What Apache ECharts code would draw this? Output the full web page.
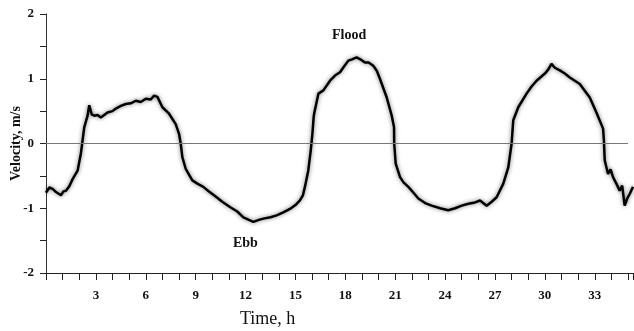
<!DOCTYPE html>
<html>
<head>
<meta charset="utf-8">
<script src="https://cdn.jsdelivr.net/npm/echarts@6/dist/echarts.min.js"></script>
<style>html,body{margin:0;padding:0;background:#fff;}#c{width:634px;height:331px;}</style>
</head>
<body>
<div id="c"></div>
<script>
// Time (h) and velocity (m/s)
var timeH = [0, 0.2, 0.4, 0.6, 0.9, 1.05, 1.2, 1.4, 1.6, 1.9, 2.1, 2.2, 2.3, 2.5, 2.6, 2.75, 2.9, 3.1, 3.3, 3.5, 3.7, 4.0, 4.2, 4.5, 4.8, 5.1, 5.4, 5.7, 6.0, 6.3, 6.5, 6.7, 7.0, 7.4, 7.8, 8.0, 8.1, 8.2, 8.4, 8.6, 8.8,
  9.1, 9.46, 9.8, 10.26, 10.6, 11.06, 11.5, 11.87, 12.2, 12.47, 12.8, 13.07, 13.5, 13.87, 14.3, 14.67, 15.0, 15.27, 15.45, 15.57, 15.77, 15.92, 16.02, 16.1, 16.14, 16.38, 16.68, 17.08, 17.38, 17.68,
  17.9, 18.18, 18.4, 18.68, 18.9, 19.18, 19.4, 19.68, 19.9, 20.08, 20.49, 20.79, 20.93, 20.94, 21.03, 21.29, 21.5, 21.79, 22.1, 22.39, 22.8, 23.19, 23.7, 24.19, 24.6, 25.0, 25.4, 25.8, 26.1, 26.5,
  26.8, 27.1, 27.5, 27.8, 28.0, 28.1, 28.4, 28.9, 29.2, 29.5, 30.0, 30.2, 30.4, 30.6, 30.9, 31.2, 31.5, 32.1, 32.7, 33.1, 33.5, 33.55, 33.6, 33.8, 33.95, 34.1, 34.3, 34.5, 34.65, 34.8, 34.95, 35.1, 35.3];
var velocity = [-0.76, -0.68, -0.70, -0.75, -0.80, -0.74, -0.73, -0.66, -0.55, -0.42, -0.15, 0.05, 0.25, 0.43, 0.59, 0.45, 0.43, 0.44, 0.40, 0.44, 0.48, 0.50, 0.54, 0.58, 0.61, 0.62, 0.66, 0.64, 0.69, 0.68, 0.74, 0.72, 0.56, 0.46, 0.30, 0.15, 0.0, -0.21, -0.39, -0.48, -0.57,
  -0.62, -0.67, -0.74, -0.83, -0.90, -0.98, -1.05, -1.14, -1.18, -1.21, -1.18, -1.16, -1.14, -1.11, -1.06, -1.01, -0.95, -0.88, -0.80, -0.67, -0.42, -0.11, 0.15, 0.42, 0.48, 0.77, 0.82, 0.97, 1.05, 1.10,
  1.18, 1.28, 1.30, 1.33, 1.30, 1.25, 1.25, 1.20, 1.12, 1.00, 0.71, 0.43, 0.25, 0.0, -0.31, -0.52, -0.60, -0.67, -0.76, -0.85, -0.92, -0.96, -1.00, -1.03, -1.00, -0.96, -0.93, -0.91, -0.88, -0.96,
  -0.90, -0.83, -0.62, -0.37, 0.0, 0.36, 0.56, 0.77, 0.88, 0.97, 1.08, 1.14, 1.23, 1.17, 1.13, 1.08, 1.02, 0.92, 0.71, 0.48, 0.23, 0.05, -0.26, -0.47, -0.40, -0.52, -0.62, -0.73, -0.65, -0.96, -0.85, -0.78, -0.67];
var xTickLabels = [3, 6, 9, 12, 15, 18, 21, 24, 27, 30, 33];
var yTickLabels = [-2, -1, 0, 1, 2];

var pts = timeH.map(function (t, i) { return [t, velocity[i]]; });
var serif = '"Liberation Serif", "DejaVu Serif", serif';

var chart = echarts.init(document.getElementById('c'), null, {renderer: 'canvas'});
chart.setOption({
  animation: false,
  backgroundColor: '#fff',
  grid: {left: 46, right: 1, top: 14, bottom: 58, containLabel: false, outerBoundsMode: 'none'},
  xAxis: {
    type: 'value', min: 0, max: 35.3, interval: 1,
    axisLine: {onZero: false, lineStyle: {color: '#222', width: 1}},
    axisTick: {show: true, length: 7, lineStyle: {color: '#222'}},
    splitLine: {show: false},
    axisLabel: {
      margin: 16, color: '#111', fontFamily: serif, fontWeight: 'bold', fontSize: 13,
      formatter: function (v) { return xTickLabels.indexOf(v) >= 0 ? String(v) : ''; }
    }
  },
  yAxis: {
    type: 'value', min: -2, max: 2, interval: 0.5,
    name: 'Velocity, m/s', nameLocation: 'middle', nameGap: 23, nameMoveOverlap: false,
    nameTextStyle: {color: '#111', fontFamily: serif, fontWeight: 'bold', fontSize: 14},
    axisLine: {show: true, onZero: false, lineStyle: {color: '#333', width: 1}},
    axisTick: {show: true, length: 6, lineStyle: {color: '#222'}},
    splitLine: {show: false},
    axisLabel: {
      margin: 12, color: '#111', fontFamily: serif, fontWeight: 'bold', fontSize: 13,
      formatter: function (v) { return yTickLabels.indexOf(v) >= 0 ? String(v) : ''; }
    }
  },
  graphic: [
    {type: 'text', left: 240, top: 310, style: {text: 'Time, h', font: '18px ' + serif, fill: '#111'}},
    {type: 'text', left: 332, top: 28, style: {text: 'Flood', font: 'bold 14px ' + serif, fill: '#111'}},
    {type: 'text', left: 233, top: 236, style: {text: 'Ebb', font: 'bold 14px ' + serif, fill: '#111'}}
  ],
  series: [{
    type: 'line', data: pts, symbol: 'none', smooth: false,
    lineStyle: {color: '#000', width: 2.5, shadowBlur: 4, shadowColor: 'rgba(0,0,0,0.55)'},
    markLine: {
      silent: true, symbol: 'none', label: {show: false},
      lineStyle: {color: '#777', width: 1, type: 'solid'},
      data: [[{coord: [0, 0]}, {coord: [35, 0]}]]
    }
  }]
});
</script>
</body>
</html>
